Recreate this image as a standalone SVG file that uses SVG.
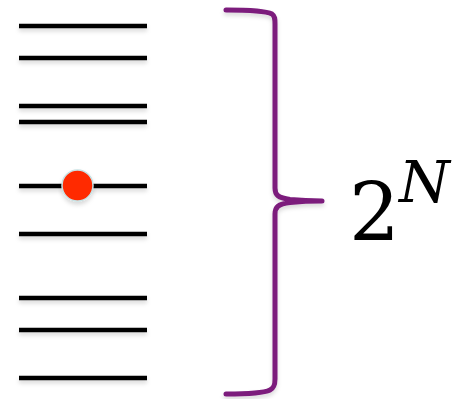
<svg xmlns="http://www.w3.org/2000/svg" width="463" height="399" viewBox="0 0 463 399">
<defs>
<filter id="sh" x="-10%" y="-100%" width="120%" height="400%">
<feDropShadow dx="0" dy="3" stdDeviation="2" flood-color="#000" flood-opacity="0.15"/>
</filter>
<style>
.lvl{stroke:#000;stroke-width:4.5;fill:none;}
.brace{stroke:#7b1c7c;stroke-width:5;fill:none;stroke-linecap:round;stroke-linejoin:round;}
</style>
</defs>
<rect width="463" height="399" fill="#fff"/>
<g id="levels" filter="url(#sh)">
<line class="lvl" x1="19" y1="26" x2="147" y2="26"/>
<line class="lvl" x1="19" y1="58" x2="147" y2="58"/>
<line class="lvl" x1="19" y1="106" x2="147" y2="106"/>
<line class="lvl" x1="19" y1="122" x2="147" y2="122"/>
<line class="lvl" x1="19" y1="186" x2="147" y2="186"/>
<line class="lvl" x1="19" y1="234" x2="147" y2="234"/>
<line class="lvl" x1="19" y1="298" x2="147" y2="298"/>
<line class="lvl" x1="19" y1="330" x2="147" y2="330"/>
<line class="lvl" x1="19" y1="378" x2="147" y2="378"/>
</g>
<g id="particle" filter="url(#sh)">
<circle cx="77.5" cy="185.5" r="15.5" fill="#ff2a00" stroke="#c8e2e4" stroke-width="1.5"/>
</g>
<g id="brace" filter="url(#sh)">
<path class="brace" d="M226 10 C250 10 266 11 272 14 C275 16 275 19 275 24 L275 188 C275 195 278 198 290 199.5 C300 200.5 312 201 322 201 C312 201 300 201.5 290 202.5 C278 204 275 207 275 214 L275 379 C275 385 274 388 270 390 C264 393 250 394 226 394"/>
</g>
<g id="label">
<text font-family="'DejaVu Serif', 'Liberation Serif', serif" x="349" y="240" font-size="80" fill="#000">2</text>
<text font-family="'DejaVu Serif', 'Liberation Serif', serif" x="399" y="202" font-size="58" font-style="italic" fill="#000">N</text>
</g>
</svg>
